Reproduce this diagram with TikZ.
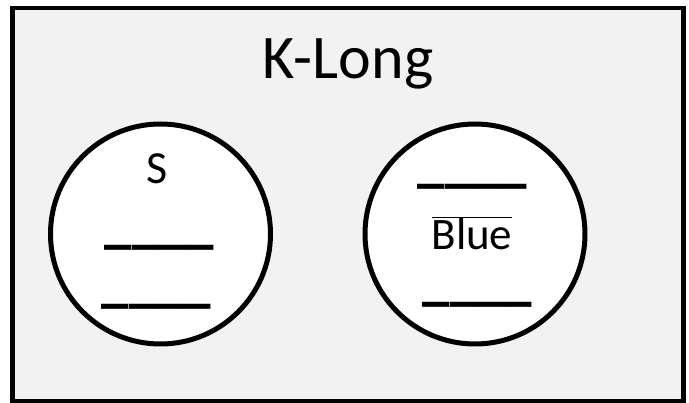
\documentclass[tikz,border=0pt]{standalone}
\usepackage{fontspec}
\setmainfont{Carlito}
\usetikzlibrary{positioning}
\definecolor{panel}{HTML}{F2F2F2}
\tikzset{
  frame/.style = {draw, line width=4.5pt, fill=panel, inner sep=0pt},
  blob/.style = {circle, draw, line width=5pt, fill=white, minimum size=220pt, inner sep=0pt},
  word/.style = {font=\fontsize{45}{50}\selectfont, inner sep=0pt, anchor=base},
  blank/.style = {font=\fontsize{55}{60}\selectfont\bfseries, inner sep=0pt, yscale=1.15},
}

\begin{document}
\begin{tikzpicture}[x=1pt, y=-1pt]
\useasboundingbox (0,0) rectangle (689,403);
\node[frame, minimum width=671pt, minimum height=393.5pt] (klong) at (348,204.75) {};
\node[word, font=\fontsize{62}{70}\selectfont] (title) at (348,79) {K-Long};
% left set
\node[blob] (left) at (160.5,234) {};
\node[word, font=\fontsize{46}{50}\selectfont] (s) at (157,183.5) {S};
\node[blank] (l1) at (159.5,245.5) {\_\_\_\_};
\node[blank] (l2) at (156.5,305) {\_\_\_\_};
% right set
\node[blob] (right) at (475,234) {};
\node[blank] (r1) at (472.5,185) {\_\_\_\_};
\node[word] (blue) at (472,250) {$\overline{\mbox{Blue}}$};
\node[blank] (r2) at (477.5,303) {\_\_\_\_};
\end{tikzpicture}
\end{document}
